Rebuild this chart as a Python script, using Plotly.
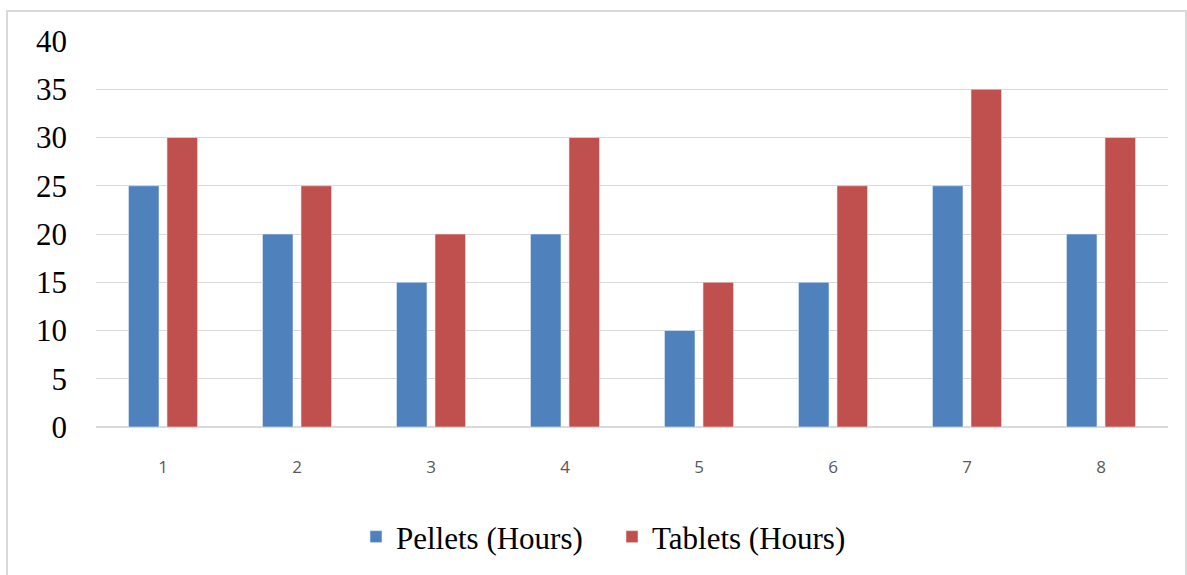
import plotly.graph_objects as go

categories = ["1", "2", "3", "4", "5", "6", "7", "8"]
pellets = [25, 20, 15, 20, 10, 15, 25, 20]
tablets = [30, 25, 20, 30, 15, 25, 35, 30]
y_ticks = [0, 5, 10, 15, 20, 25, 30, 35, 40]

W, H = 1187, 575
L, R, T, B = 96, 19, 41, 147
pw, ph = W - L - R, H - T - B

def px_x(x):
    return (x - L) / pw

def px_y(y):
    return (H - B - y) / ph

fig = go.Figure()
fig.add_trace(go.Bar(name="Pellets (Hours)", x=categories, y=pellets,
                     marker=dict(color="#4F81BD", line=dict(color="#E8EEF7", width=0.6))))
fig.add_trace(go.Bar(name="Tablets (Hours)", x=categories, y=tablets,
                     marker=dict(color="#C0504D", line=dict(color="#F5E2E2", width=0.6))))

fig.update_layout(
    width=W, height=H,
    margin=dict(l=L, r=R, t=T, b=B),
    paper_bgcolor="white", plot_bgcolor="white",
    barmode="group", bargap=0.425, bargroupgap=0.208,
    font=dict(family="Liberation Serif", color="black"),
    xaxis=dict(type="category", showgrid=False, ticks="", showline=False,
               tickfont=dict(family="Open Sans", size=17, color="#595959"),
               ticklabelstandoff=28),
    yaxis=dict(range=[0, 40], tickvals=y_ticks, showgrid=True, gridcolor="#D9D9D9",
               gridwidth=1.3, zeroline=True, zerolinecolor="#D9D9D9", zerolinewidth=1.5,
               tickfont=dict(family="Liberation Serif", size=31, color="black"),
               ticklabelstandoff=28, showline=False),
    legend=dict(orientation="h", x=px_x(612), xanchor="center", y=px_y(537), yanchor="middle",
                font=dict(family="Liberation Serif", size=31, color="black"),
                itemwidth=30, traceorder="normal", entrywidth=211),
    shapes=[dict(type="rect", xref="paper", yref="paper",
                 x0=px_x(7), x1=px_x(1186), y0=px_y(585), y1=px_y(11),
                 line=dict(color="#D9D9D9", width=2), fillcolor="rgba(0,0,0,0)", layer="below")],
)

fig.write_html("out.html", config={"displayModeBar": False},
               post_script="document.body.style.margin='0';")
